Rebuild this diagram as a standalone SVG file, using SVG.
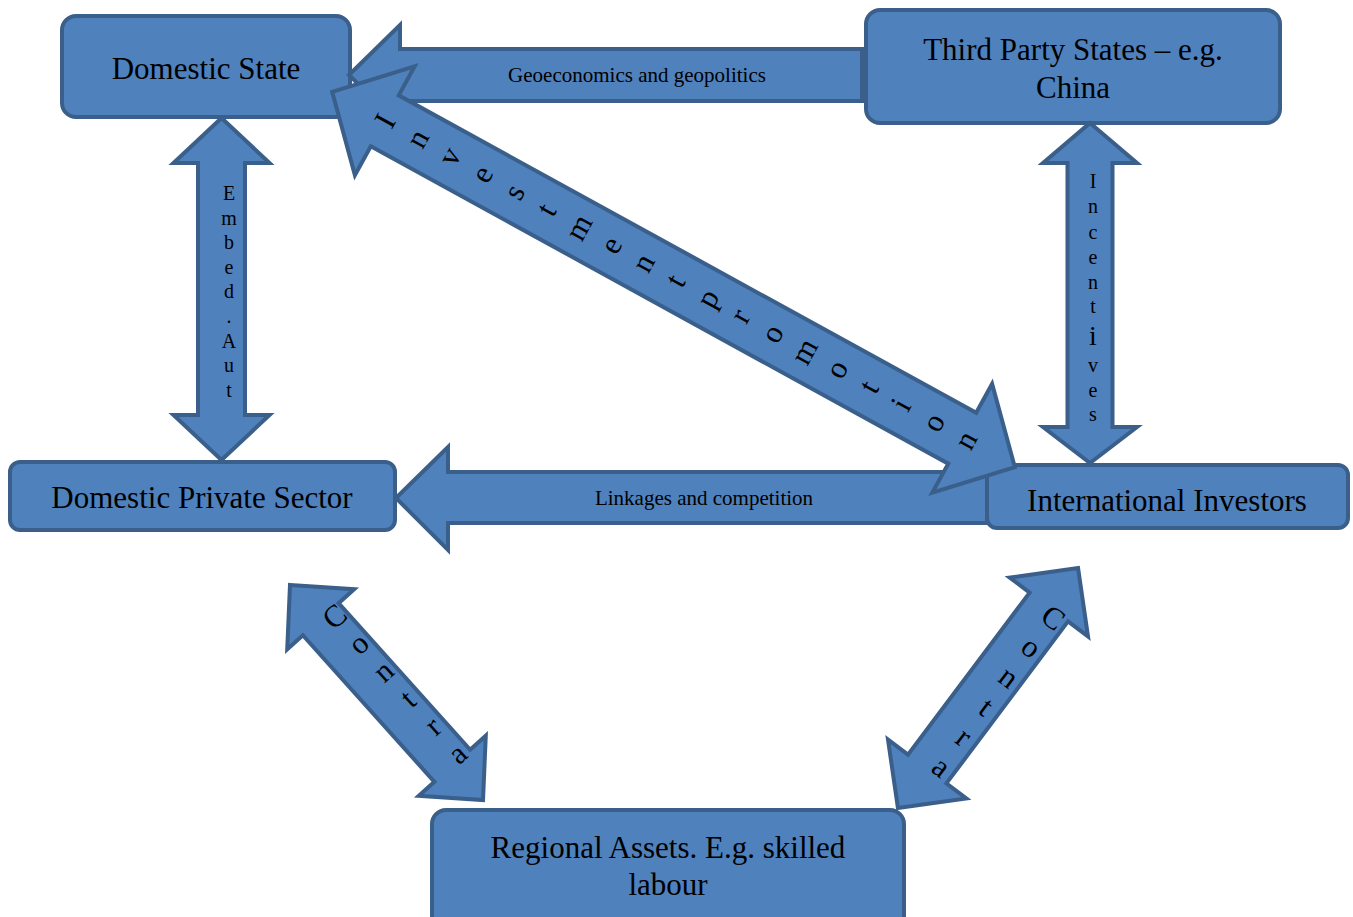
<svg xmlns="http://www.w3.org/2000/svg" width="1353" height="917" viewBox="0 0 1353 917">
<style>
.box{fill:#4F81BD;stroke:#3A5F8B;stroke-width:4;stroke-linejoin:round}
.arr{fill:#4F81BD;stroke:#3A5F8B;stroke-width:4;stroke-linejoin:miter}
.nt{font-family:"Liberation Serif","Times New Roman",serif;font-size:31px;fill:#000;text-anchor:middle}
.lt{font-family:"Liberation Serif","Times New Roman",serif;font-size:21px;fill:#000;text-anchor:middle}
.vt{font-family:"Liberation Serif","Times New Roman",serif;font-size:20px;fill:#000;text-anchor:middle}
.dt{font-family:"Liberation Serif","Times New Roman",serif;font-size:31px;fill:#000;text-anchor:middle}
</style>
<rect width="1353" height="917" fill="#fff"/>
<g id="node-domestic-state">
<rect class="box" x="62" y="16" width="288" height="101" rx="14"/>
<text class="nt" x="206" y="79">Domestic State</text>
</g>
<g id="node-third-party">
<rect class="box" x="866" y="10" width="414" height="113" rx="14"/>
<text class="nt" x="1073" y="60">Third Party States – e.g.</text>
<text class="nt" x="1073" y="98">China</text>
</g>
<g id="node-domestic-private">
<rect class="box" x="10" y="462" width="385" height="68" rx="10"/>
<text class="nt" x="202" y="508">Domestic Private Sector</text>
</g>
<g id="node-international">
<rect class="box" x="987" y="465" width="361" height="63" rx="10"/>
<text class="nt" x="1167" y="511">International Investors</text>
</g>
<g id="node-regional">
<rect class="box" x="432" y="810" width="472" height="120" rx="14"/>
<text class="nt" x="668" y="858">Regional Assets. E.g. skilled</text>
<text class="nt" x="668" y="895">labour</text>
</g>
<g id="connectors">
<g id="geo">
<path class="arr" d="M349,75 L400,25 L400,49 L862,49 L862,101 L400,101 L400,125 Z"/>
<text class="lt" x="637" y="82">Geoeconomics and geopolitics</text>
</g>
<g id="linkages">
<path class="arr" d="M396,498 L448,447 L448,472 L987,472 L987,523 L448,523 L448,550 Z"/>
<text class="lt" x="704" y="505">Linkages and competition</text>
</g>
<g id="embed" transform="translate(221.5,289)">
<path class="arr" d="M0,-171 L48,-126 L23.5,-126 L23.5,126 L48,126 L0,171 L-48,126 L-23.5,126 L-23.5,-126 L-48,-126 Z"/>
<g class="vt">
<text x="7.5" y="-89">E</text><text x="7.5" y="-64.4">m</text><text x="7.5" y="-39.8">b</text><text x="7.5" y="-15.2">e</text><text x="7.5" y="9.4">d</text><text x="7.5" y="34">.</text><text x="7.5" y="58.6">A</text><text x="7.5" y="83.2">u</text><text x="7.5" y="107.8">t</text>
</g>
</g>
<g id="incentives" transform="translate(1090,293)">
<path class="arr" d="M0,-170 L47,-130 L22.5,-130 L22.5,134 L47,134 L0,170 L-47,134 L-22.5,134 L-22.5,-130 L-47,-130 Z"/>
<g class="vt">
<text x="3" y="-105">I</text><text x="3" y="-80">n</text><text x="3" y="-54">c</text><text x="3" y="-29">e</text><text x="3" y="-4">n</text><text x="3" y="20">t</text><text x="3" y="52" style="font-size:28px">i</text><text x="3" y="79">v</text><text x="3" y="104">e</text><text x="3" y="128">s</text>
</g>
</g>
<g id="investment" transform="translate(673.5,279.5) rotate(-61.2)">
<path class="arr" d="M0,-389.5 L62,-329.5 L29,-329.5 L29,329.5 L62,329.5 L0,389.5 L-62,329.5 L-29,329.5 L-29,-329.5 L-62,-329.5 Z"/>
<g class="dt">
<text x="0" y="-319">I</text><text x="0" y="-282.2">n</text><text x="0" y="-245.4">v</text><text x="0" y="-208.6">e</text><text x="0" y="-171.8">s</text><text x="0" y="-135">t</text><text x="0" y="-98.2">m</text><text x="0" y="-61.4">e</text><text x="0" y="-24.6">n</text><text x="0" y="12.2">t</text><text x="0" y="49">p</text><text x="0" y="85.8">r</text><text x="0" y="122.6">o</text><text x="0" y="159.4">m</text><text x="0" y="196.2">o</text><text x="0" y="233">t</text><text x="0" y="269.8">i</text><text x="0" y="306.6">o</text><text x="0" y="343.4">n</text>
</g>
</g>
<g id="contra-left" transform="translate(386.5,692.5) rotate(-41.9)">
<path class="arr" d="M0,-144.5 L45,-98.5 L24,-98.5 L24,98.5 L45,98.5 L0,144.5 L-45,98.5 L-24,98.5 L-24,-98.5 L-45,-98.5 Z"/>
<g class="dt">
<text x="12" y="-81">C</text><text x="12" y="-45">o</text><text x="12" y="-8">n</text><text x="12" y="29">t</text><text x="12" y="66">r</text><text x="12" y="103">a</text>
</g>
</g>
<g id="contra-right" transform="translate(988,688) rotate(36.9)">
<path class="arr" d="M0,-150 L49,-101.3 L24,-101.3 L24,101.3 L49,101.3 L0,150 L-49,101.3 L-24,101.3 L-24,-101.3 L-49,-101.3 Z"/>
<g class="dt">
<text x="10" y="-85">C</text><text x="10" y="-48.6">o</text><text x="10" y="-11.2">n</text><text x="10" y="26.2">t</text><text x="10" y="63.6">r</text><text x="10" y="101">a</text>
</g>
</g>
</g>
</svg>
